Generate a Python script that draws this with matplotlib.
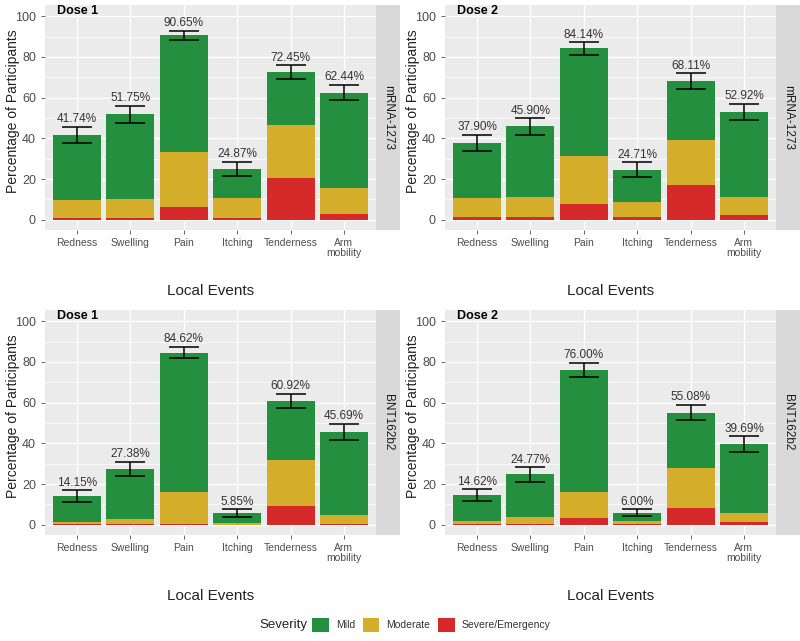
import matplotlib.pyplot as plt
from matplotlib.patches import Patch
import numpy as np

plt.rcParams['font.family'] = ['Liberation Sans', 'DejaVu Sans']

events = ['Redness', 'Swelling', 'Pain', 'Itching', 'Tenderness', 'Arm\nmobility']

# totals (any severity) per panel
total_m1 = [41.74, 51.75, 90.65, 24.87, 72.45, 62.44]
total_m2 = [37.90, 45.90, 84.14, 24.71, 68.11, 52.92]
total_b1 = [14.15, 27.38, 84.62, 5.85, 60.92, 45.69]
total_b2 = [14.62, 24.77, 76.00, 6.00, 55.08, 39.69]

# moderate share of participants
moder_m1 = [9.1, 9.6, 27.0, 9.9, 25.9, 12.8]
moder_m2 = [9.6, 9.6, 23.8, 7.4, 21.8, 8.7]
moder_b1 = [1.3, 2.8, 15.3, 0.7, 22.6, 4.6]
moder_b2 = [1.5, 3.6, 12.6, 1.5, 19.7, 4.3]

# severe/emergency share
sever_m1 = [0.8, 0.8, 6.2, 1.0, 20.6, 2.8]
sever_m2 = [1.3, 1.6, 7.6, 1.3, 17.3, 2.5]
sever_b1 = [0.2, 0.2, 0.6, 0.0, 9.2, 0.3]
sever_b2 = [0.3, 0.3, 3.3, 0.3, 8.2, 1.3]

# error bar half widths
err_m1 = [4.0, 4.2, 2.3, 3.5, 3.5, 3.8]
err_m2 = [4.0, 4.0, 3.0, 3.5, 3.8, 4.0]
err_b1 = [2.8, 3.5, 2.8, 1.8, 3.5, 3.8]
err_b2 = [2.8, 3.5, 3.5, 1.7, 3.8, 3.8]

C_MILD = '#24903f'
C_MOD = '#d4ae2b'
C_SEV = '#d62a2a'

panels = [
    ('Dose 1', 'mRNA-1273', total_m1, moder_m1, sever_m1, err_m1, 45, 5),
    ('Dose 2', 'mRNA-1273', total_m2, moder_m2, sever_m2, err_m2, 445, 5),
    ('Dose 1', 'BNT162b2', total_b1, moder_b1, sever_b1, err_b1, 45, 310),
    ('Dose 2', 'BNT162b2', total_b2, moder_b2, sever_b2, err_b2, 445, 310),
]

W, H = 800, 641
fig = plt.figure(figsize=(8, 6.41), dpi=100)

pw, ph = 331, 225
for dose, vacc, tot, mod, sev, err, px, py in panels:
    ax = fig.add_axes([px / W, 1 - (py + ph) / H, pw / W, ph / H])
    x = np.arange(1, len(events) + 1)
    tot = np.array(tot)
    mod = np.array(mod)
    sev = np.array(sev)
    mild = tot - mod - sev
    ax.bar(x, sev, width=0.9, color=C_SEV, zorder=3)
    ax.bar(x, mod, width=0.9, bottom=sev, color=C_MOD, zorder=3)
    ax.bar(x, mild, width=0.9, bottom=sev + mod, color=C_MILD, zorder=3)
    ax.errorbar(x, tot, yerr=err, fmt='none', ecolor='black', elinewidth=1.1,
                capsize=11, capthick=1.1, zorder=4)
    for xi, t, e in zip(x, tot, err):
        ax.text(xi, t + e + 0.8, f'{t:.2f}%', ha='center', va='bottom',
                fontsize=8.5, color='#333333', zorder=5)
    ax.set_xlim(0.4, len(events) + 0.6)
    ax.set_ylim(-5, 105.5)
    ax.set_facecolor('#ebebeb')
    ax.set_yticks([0, 20, 40, 60, 80, 100])
    ax.set_yticks([10, 30, 50, 70, 90], minor=True)
    ax.set_xticks(x)
    ax.set_xticklabels(events, fontsize=7.5, color='#4d4d4d', linespacing=1.0)
    ax.tick_params(axis='y', labelsize=9, labelcolor='#4d4d4d', color='#4d4d4d',
                   length=3, width=0.6)
    ax.tick_params(axis='y', which='minor', length=0)
    ax.tick_params(axis='x', color='#4d4d4d', length=3, width=0.6, pad=3)
    ax.grid(which='major', color='white', linewidth=1.0, zorder=0)
    ax.grid(which='minor', axis='y', color='white', linewidth=0.5, zorder=0)
    ax.set_axisbelow(True)
    for s in ax.spines.values():
        s.set_visible(False)
    ax.set_ylabel('Percentage of Participants', fontsize=10, color='#222222')
    ax.yaxis.set_label_coords(-25 / pw, 0.53)
    ax.set_xlabel('Local Events', fontsize=11, color='#222222')
    ax.xaxis.set_label_coords(0.5, -0.27)
    ax.xaxis.label.set_va('center')
    ax.text(0.035, 0.975, dose, transform=ax.transAxes, ha='left', va='center',
            fontsize=9, fontweight='bold', color='black')
    # facet strip on the right
    sx = fig.add_axes([(px + pw) / W, 1 - (py + ph) / H, 24 / W, ph / H])
    sx.set_facecolor('#d9d9d9')
    sx.set_xticks([])
    sx.set_yticks([])
    for s in sx.spines.values():
        s.set_visible(False)
    sx.text(0.5, 0.5, vacc, rotation=-90, ha='center', va='center',
            fontsize=8.5, color='#1a1a1a', transform=sx.transAxes)

# legend
handles = [Patch(facecolor=C_MILD, edgecolor='none', label='Mild'),
           Patch(facecolor=C_MOD, edgecolor='none', label='Moderate'),
           Patch(facecolor=C_SEV, edgecolor='none', label='Severe/Emergency')]
fig.text(259 / W, 1 - 625 / H, 'Severity', fontsize=9.5, color='#222222',
         ha='left', va='center')
fig.legend(handles=handles, loc='center left', bbox_to_anchor=(312 / W, 1 - 625 / H),
           ncol=3, frameon=False, fontsize=7.5, handlelength=1.63, handleheight=1.63,
           handletextpad=0.67, columnspacing=0.7, borderpad=0, borderaxespad=0,
           labelcolor='#333333')

fig.savefig('out.png', dpi=100)
